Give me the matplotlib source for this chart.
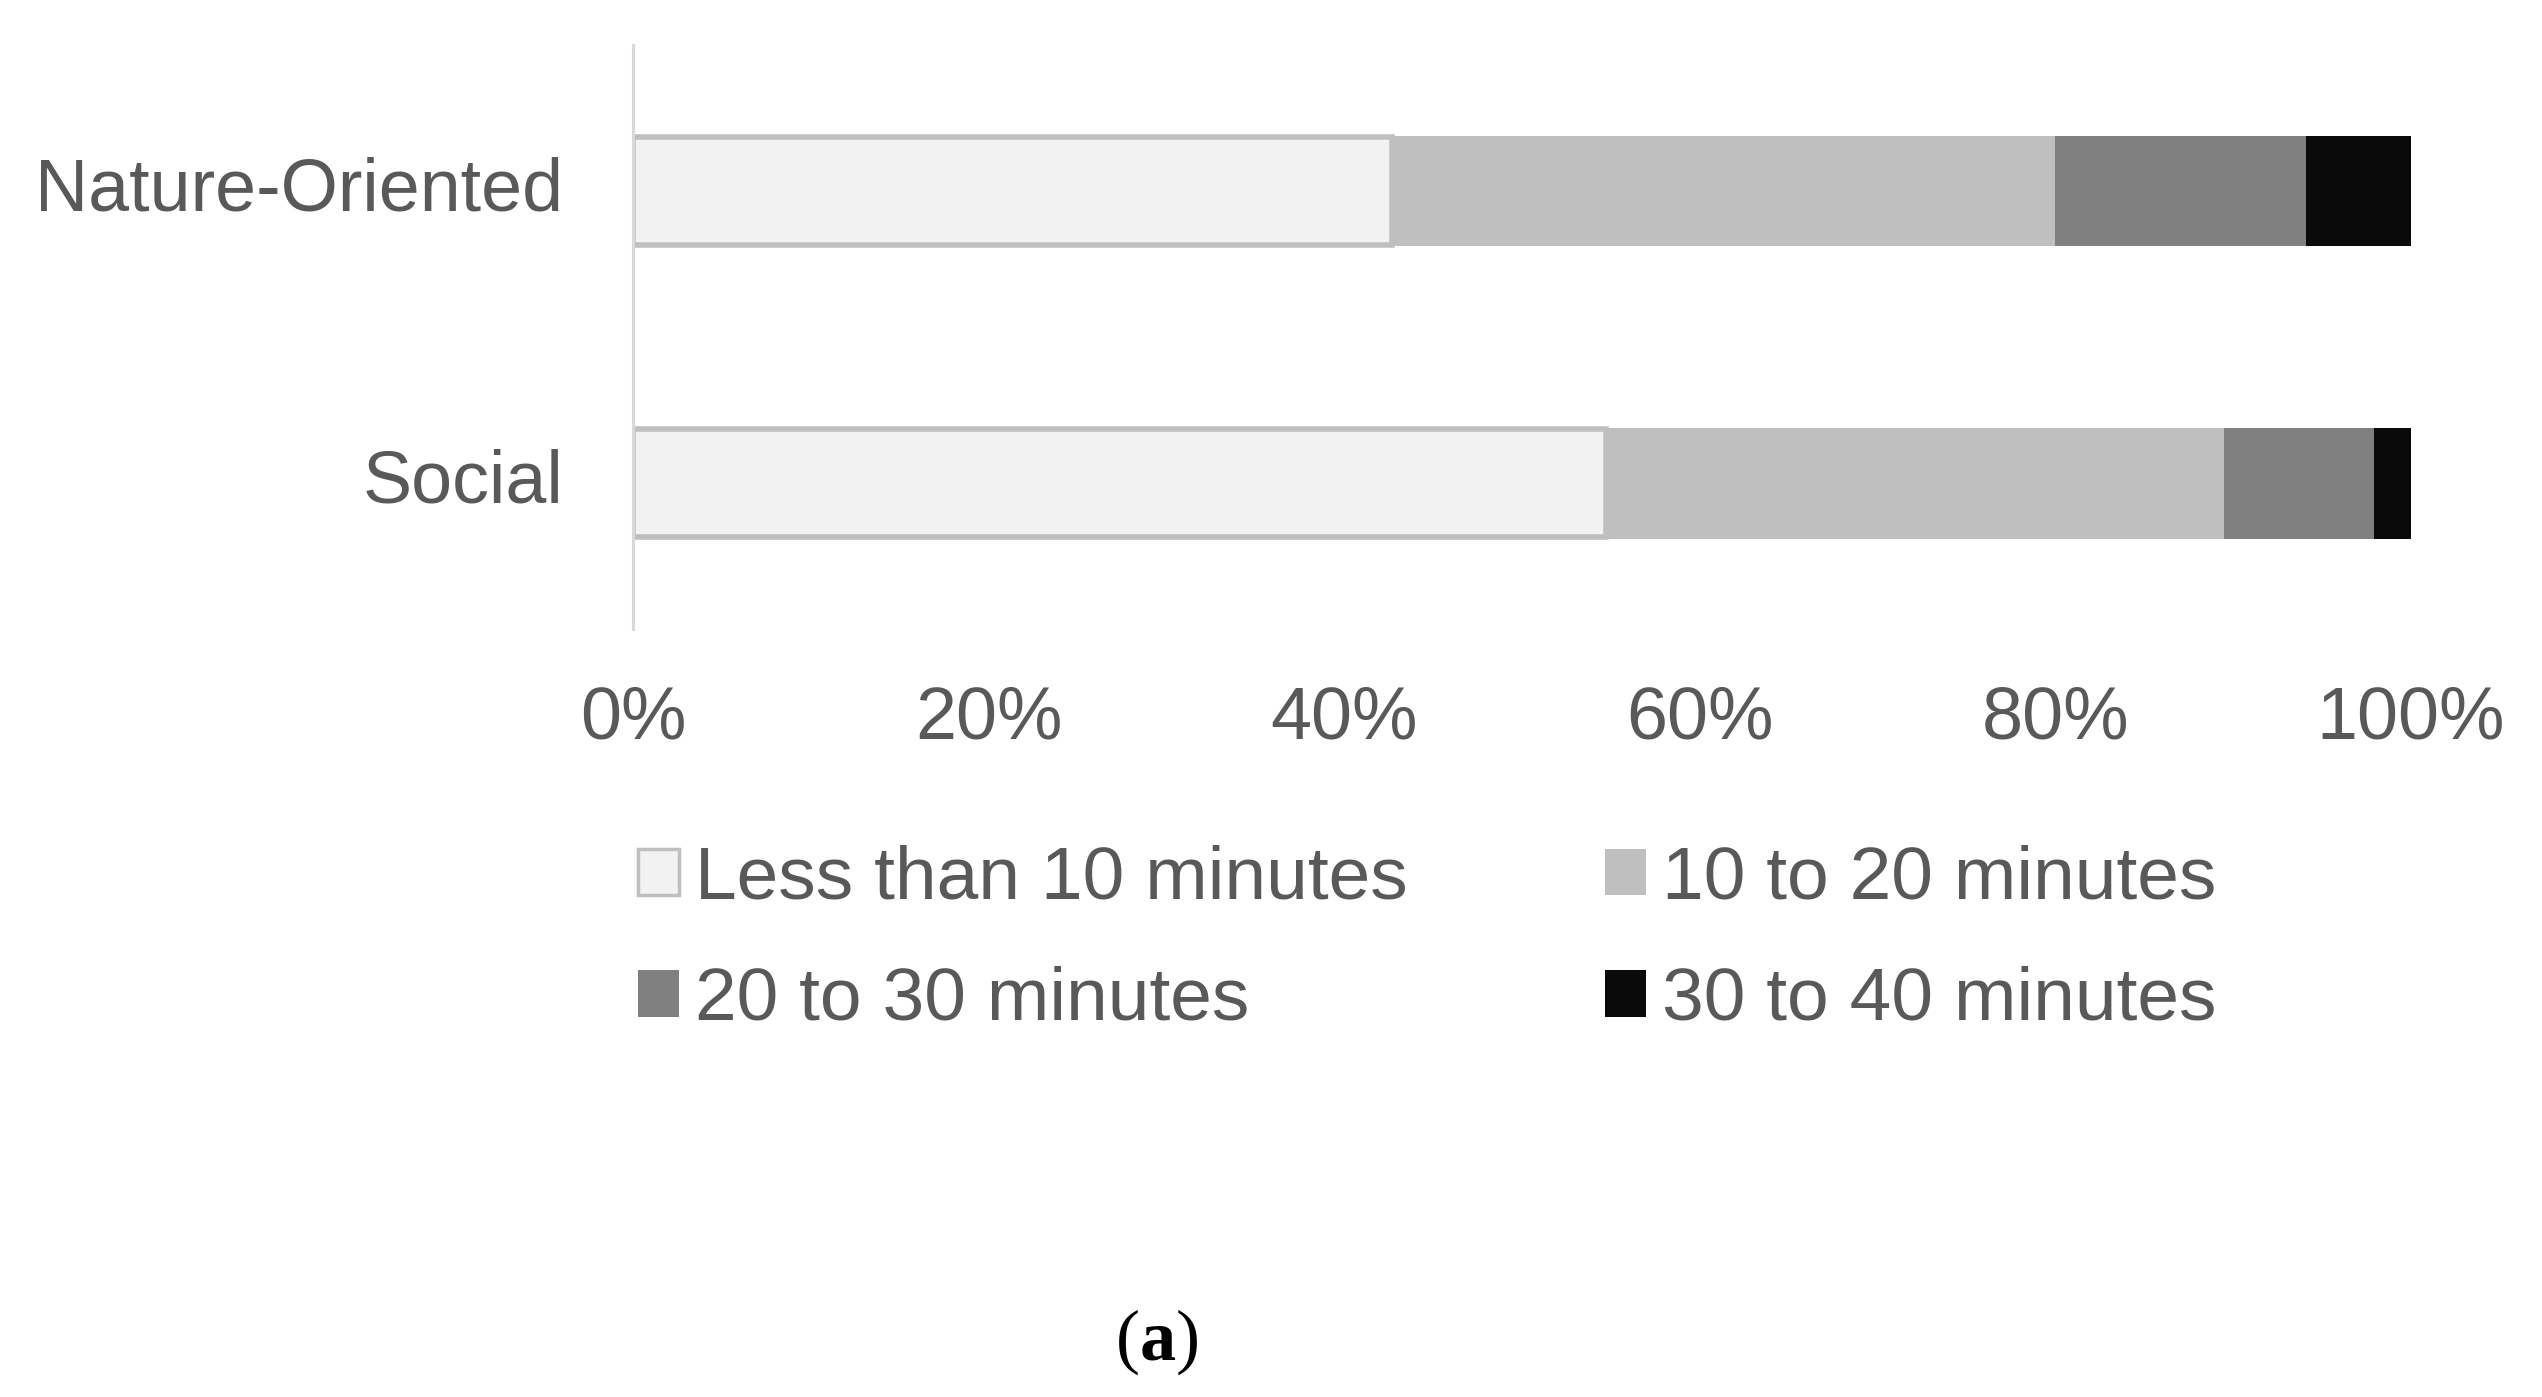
import numpy as np
import matplotlib
matplotlib.use("Agg")
import matplotlib.pyplot as plt
from matplotlib.patches import Patch

# data (percent of respondents)
categories = ["Social", "Nature-Oriented"]
series_names = ["Less than 10 minutes", "10 to 20 minutes", "20 to 30 minutes", "30 to 40 minutes"]
less_10 = [54.7, 42.7]
from_10_20 = [34.8, 37.3]
from_20_30 = [8.4, 14.1]
from_30_40 = [2.1, 5.9]
xticks = [0, 20, 40, 60, 80, 100]
xtick_labels = ["0%", "20%", "40%", "60%", "80%", "100%"]

colors = ["#f2f2f2", "#bfbfbf", "#808080", "#0a0a0a"]
txt_color = "#595959"

plt.rcParams["font.family"] = ["Liberation Sans", "DejaVu Sans"]
plt.rcParams["mathtext.fontset"] = "custom"
plt.rcParams["mathtext.rm"] = "Liberation Serif"
plt.rcParams["mathtext.bf"] = "Liberation Serif:bold"

fig = plt.figure(figsize=(25.42, 13.97), dpi=100)
ax = fig.add_axes([0.249, 0.5497, 0.6995, 0.4181])

ypos = np.arange(len(categories))
left = np.zeros(len(categories))
for i, vals in enumerate([less_10, from_10_20, from_20_30, from_30_40]):
    if i == 0:
        ax.barh(ypos, vals, left=left, height=0.37, color=colors[i],
                edgecolor="#bfbfbf", linewidth=4)
    else:
        ax.barh(ypos, vals, left=left, height=0.38, color=colors[i], linewidth=0)
    left += np.array(vals)

ax.set_xlim(0, 100)
ax.set_ylim(-0.5, 1.5)
ax.set_yticks(ypos)
ax.set_yticklabels(categories, va="center")
ax.set_xticks(xticks)
ax.set_xticklabels(xtick_labels)
ax.tick_params(axis="y", length=0, pad=50, labelsize=53, labelcolor=txt_color)
ax.tick_params(axis="x", length=0, pad=40, labelsize=53, labelcolor=txt_color)
for s in ["top", "right", "bottom"]:
    ax.spines[s].set_visible(False)
ax.spines["left"].set_color("#d9d9d9")
ax.spines["left"].set_linewidth(2.2)

handles = [Patch(facecolor=colors[0], edgecolor="#bfbfbf", linewidth=2.5, label=series_names[0]),
           Patch(facecolor=colors[1], edgecolor="none", label=series_names[1]),
           Patch(facecolor=colors[2], edgecolor="none", label=series_names[2]),
           Patch(facecolor=colors[3], edgecolor="none", label=series_names[3])]
order = [0, 2, 1, 3]
leg = fig.legend([handles[k] for k in order], [series_names[k] for k in order],
                 ncol=2, loc="upper left", bbox_to_anchor=(0.251, 0.3955),
                 frameon=False, fontsize=54, borderpad=0, borderaxespad=0,
                 handlelength=0.54, handleheight=0.57, handletextpad=0.22,
                 columnspacing=2.63, labelspacing=0.7)
for t in leg.get_texts():
    t.set_color(txt_color)

fig.text(0.455, 0.039, r"($\mathbf{a}$)", ha="center", va="center",
         fontsize=52, family="Liberation Serif", color="black")

fig.savefig("out.png", dpi=100, facecolor="white")
